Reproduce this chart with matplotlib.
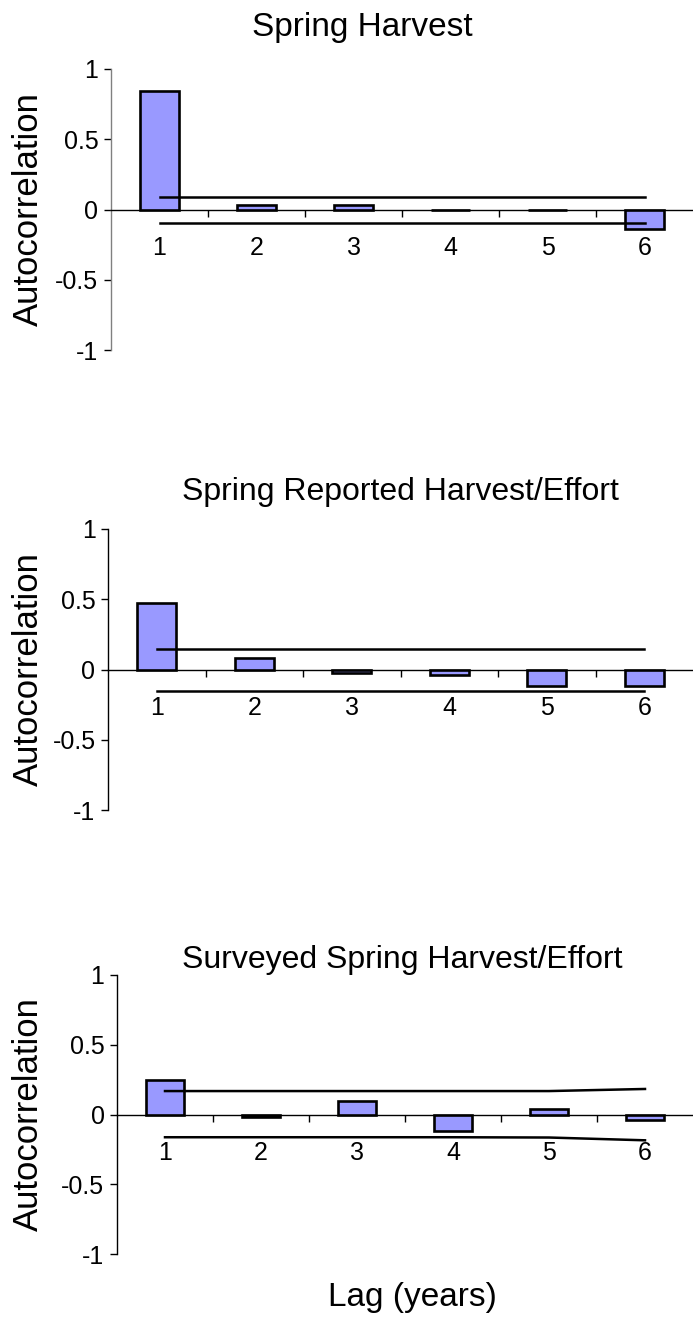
import matplotlib
matplotlib.use("Agg")
import matplotlib.pyplot as plt
import numpy as np

plt.rcParams['font.family'] = ['Liberation Sans', 'DejaVu Sans']

lags = [1, 2, 3, 4, 5, 6]
titles = ["Spring Harvest", "Spring Reported Harvest/Effort", "Surveyed Spring Harvest/Effort"]
acf_spring_harvest = [0.84, 0.03, 0.03, 0.0, 0.0, -0.14]
acf_reported = [0.47, 0.08, -0.025, -0.04, -0.12, -0.12]
acf_surveyed = [0.25, -0.02, 0.10, -0.12, 0.04, -0.04]
upper_spring_harvest = [0.09, 0.09, 0.09, 0.09, 0.09, 0.09]
lower_spring_harvest = [-0.095, -0.095, -0.095, -0.095, -0.095, -0.095]
upper_reported = [0.144, 0.144, 0.144, 0.144, 0.144, 0.144]
lower_reported = [-0.154, -0.154, -0.154, -0.154, -0.154, -0.154]
upper_surveyed = [0.168, 0.168, 0.168, 0.168, 0.168, 0.183]
lower_surveyed = [-0.163, -0.163, -0.163, -0.163, -0.165, -0.185]
ytick_vals = [-1, -0.5, 0, 0.5, 1]
ytick_labels = ["-1", "-0.5", "0", "0.5", "1"]
xlabel = "Lag (years)"
ylabel = "Autocorrelation"

W, H = 693, 1323
fig = plt.figure(figsize=(W / 100, H / 100), dpi=100)

# axes boxes in pixels: left, top, bottom
boxes = [(111, 69, 350), (108, 529, 810), (117, 975, 1254)]
title_pos = [(362, 36, 24), (400, 500, 23), (402, 968, 23)]  # center x, baseline y, size
series = [
    (acf_spring_harvest, upper_spring_harvest, lower_spring_harvest),
    (acf_reported, upper_reported, lower_reported),
    (acf_surveyed, upper_surveyed, lower_surveyed),
]
left_spine_colors = ["#808080", "black", "black"]

for i, ((l, t, b), (vals, up, lo)) in enumerate(zip(boxes, series)):
    ax = fig.add_axes([l / W, 1 - b / H, (W - l) / W, (b - t) / H])
    ax.bar(lags, vals, width=0.4, color="#9999FF", edgecolor="black", linewidth=1.9, zorder=3)
    ax.plot(lags, up, color="black", linewidth=1.8, zorder=4)
    ax.plot(lags, lo, color="black", linewidth=1.8, zorder=4)
    ax.set_xlim(0.5, 6.5)
    ax.set_ylim(-1, 1)
    for s in ["top", "right"]:
        ax.spines[s].set_visible(False)
    ax.spines["bottom"].set_position(("data", 0))
    ax.spines["bottom"].set_linewidth(1.0)
    ax.spines["left"].set_linewidth(1.0)
    ax.spines["left"].set_color(left_spine_colors[i])
    ax.set_yticks(ytick_vals)
    ax.set_yticklabels(ytick_labels)
    ax.tick_params(axis="y", direction="out", length=5, width=1, pad=4, labelsize=18)
    ax.set_xticks(lags)
    ax.set_xticklabels([str(v) for v in lags])
    ax.set_xticks([1.5, 2.5, 3.5, 4.5, 5.5], minor=True)
    ax.tick_params(axis="x", which="major", length=0, pad=19, labelsize=18)
    ax.tick_params(axis="x", which="minor", direction="out", length=5, width=1)
    cx, by, fs = title_pos[i]
    fig.text(cx / W, 1 - by / H, titles[i], ha="center", va="baseline", fontsize=fs)
    fig.text(28 / W, 1 - (t + b) / 2 / H, ylabel, rotation=90, ha="center", va="center", fontsize=25)

fig.text(412 / W, 1 - 1306 / H, xlabel, ha="center", va="baseline", fontsize=24)

fig.savefig("out.png", dpi=100)
